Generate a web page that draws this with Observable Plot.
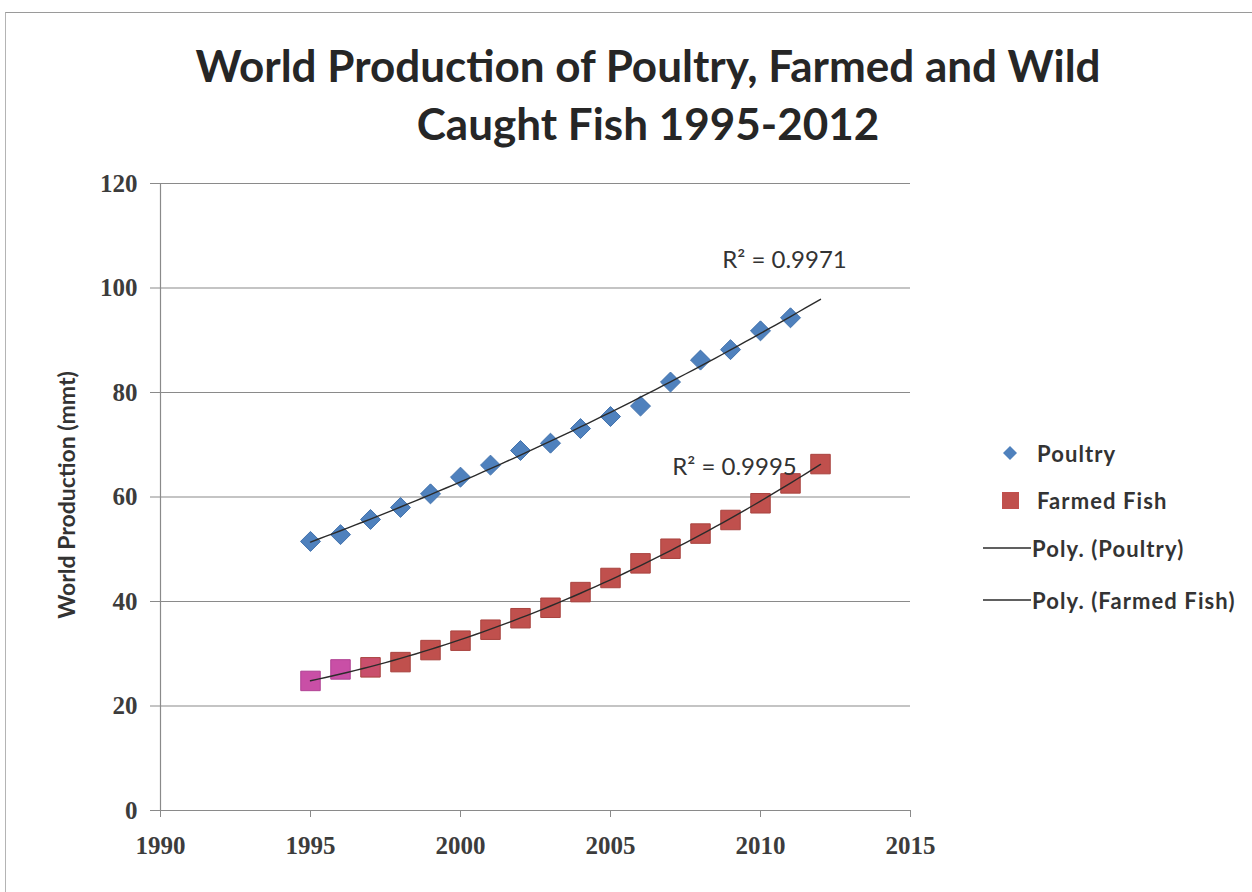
<!DOCTYPE html>
<html><head><meta charset="utf-8">
<script src="https://cdn.jsdelivr.net/npm/d3@7"></script>
<script src="https://cdn.jsdelivr.net/npm/@observablehq/plot@0.6"></script>
<style>
body{margin:0;background:#fff;}
#wrap{position:relative;width:1252px;height:892px;overflow:hidden;background:#fff;}
#frame{position:absolute;left:5px;top:12px;width:1400px;height:1000px;border-top:1.5px solid #9a9a9a;border-left:1.5px solid #b4b4b4;}
#chart{position:absolute;left:0;top:0;}
#title{position:absolute;left:0;top:36px;width:1296px;text-align:center;font-family:Lato,sans-serif;font-weight:bold;font-size:44px;line-height:58px;color:#262626;}
#ytitle{position:absolute;left:66px;top:495px;transform:translate(-50%,-50%) rotate(-90deg);white-space:nowrap;font-family:Lato,sans-serif;font-weight:bold;font-size:23px;color:#333;}
.leg{position:absolute;font-family:Lato,sans-serif;font-weight:bold;font-size:22px;letter-spacing:1.1px;color:#333;white-space:nowrap;transform:translateY(-50%);}
</style></head>
<body>
<div id="wrap">
  <div id="frame"></div>
  <div id="chart"></div>
  <div id="title">World Production of Poultry, Farmed and Wild<br>Caught Fish 1995-2012</div>
  <div id="ytitle">World Production (mmt)</div>
  <div id="legend"></div>
</div>
<script>
// ---- data ----
const poultryYears  = [1995,1996,1997,1998,1999,2000,2001,2002,2003,2004,2005,2006,2007,2008,2009,2010,2011];
const poultryValues = [51.5,52.8,55.7,58.0,60.6,63.8,66.1,68.9,70.3,73.1,75.4,77.4,82.0,86.2,88.2,91.8,94.3];
const fishYears  = [1995,1996,1997,1998,1999,2000,2001,2002,2003,2004,2005,2006,2007,2008,2009,2010,2011,2012];
const fishValues = [24.8,27.0,27.4,28.4,30.7,32.5,34.6,36.8,38.8,41.8,44.5,47.3,50.1,53.0,55.6,58.8,62.6,66.3];
const xTicks = [1990,1995,2000,2005,2010,2015];
const yTicks = [0,20,40,60,80,100,120];
const seriesNames = ["Poultry","Farmed Fish","Poly. (Poultry)","Poly. (Farmed Fish)"];
const r2Texts = ["R\u00B2 = 0.9971","R\u00B2 = 0.9995"];
const trendStart = 1995, trendEnd = 2012;

// ---- build tables ----
const poultry = poultryYears.map((y,i)=>({year:y, value:poultryValues[i]}));
const fish = fishYears.map((y,i)=>({year:y, value:fishValues[i]}));

function quadFit(xs, ys){
  const S=[0,0,0,0,0], T=[0,0,0];
  xs.forEach((x,i)=>{const t=x-2000; for(let k=0;k<5;k++) S[k]+=t**k; for(let k=0;k<3;k++) T[k]+=ys[i]*t**k;});
  const M=[[S[0],S[1],S[2]],[S[1],S[2],S[3]],[S[2],S[3],S[4]]];
  const det=m=>m[0][0]*(m[1][1]*m[2][2]-m[1][2]*m[2][1])-m[0][1]*(m[1][0]*m[2][2]-m[1][2]*m[2][0])+m[0][2]*(m[1][0]*m[2][1]-m[1][1]*m[2][0]);
  const D=det(M);
  const coef=[0,1,2].map(c=>det(M.map((row,r)=>row.map((v,j)=>j===c?T[r]:v)))/D);
  return x=>{const t=x-2000; return coef[0]+coef[1]*t+coef[2]*t*t;};
}
function trend(xs, ys){
  const f=quadFit(xs, ys);
  return d3.range(trendStart, trendEnd+0.001, 0.25).map(x=>({year:x, value:f(x)}));
}
const poultryTrend = trend(poultryYears, poultryValues);
const fishTrend = trend(fishYears, fishValues);

const fishFill = d => d.year<=1996 ? "#c94fa6" : d.year===1997 ? "#c94f6c" : "#c0504d";
const fishStroke = d => d.year<=1996 ? "#b04293" : "#a9433f";

const chart = Plot.plot({
  width:1252, height:892,
  marginTop:183, marginBottom:82, marginLeft:160, marginRight:342,
  x:{domain:[1990,2015]},
  y:{domain:[0,120]},
  style:{background:"transparent", fontFamily:"'Liberation Serif', serif", fontSize:"25px", fontWeight:"bold", color:"#3c3c3c"},
  marks:[
    Plot.ruleY(yTicks, {stroke:"#8a8a8a", strokeWidth:1.2}),
    Plot.ruleX([1990], {stroke:"#8a8a8a", strokeWidth:1.2}),
    Plot.axisY({ticks:yTicks, tickSize:10, tickPadding:13, label:null, stroke:"#8a8a8a", fill:"#3c3c3c"}),
    Plot.axisX({ticks:xTicks, tickSize:7, tickPadding:19, label:null, tickFormat:d=>String(d), stroke:"#8a8a8a", fill:"#3c3c3c"}),
    Plot.dot(poultry, {x:"year", y:"value", symbol:"diamond2", r:9, fill:"#4f81bd", stroke:"#4272ad", strokeWidth:1}),
    Plot.dot(fish, {x:"year", y:"value", symbol:"square", r:11, fill:fishFill, stroke:fishStroke, strokeWidth:1}),
    Plot.line(poultryTrend, {x:"year", y:"value", stroke:"#2b2b2b", strokeWidth:1.4}),
    Plot.line(fishTrend, {x:"year", y:"value", stroke:"#2b2b2b", strokeWidth:1.4}),
    Plot.text([poultryTrend[poultryTrend.length-1]], {x:"year", y:"value", text:()=>r2Texts[0], dx:-36, dy:-39, fontFamily:"Lato, sans-serif", fontWeight:"normal", fontSize:24, fill:"#333"}),
    Plot.text([fishTrend[fishTrend.length-1]], {x:"year", y:"value", text:()=>r2Texts[1], dx:-86, dy:3, fontFamily:"Lato, sans-serif", fontWeight:"normal", fontSize:24, fill:"#333"})
  ]
});
document.getElementById("chart").appendChild(chart);

// ---- legend ----
const leg = document.getElementById("legend");
const items = [
  {y:453, sym:`<svg width="20" height="20" style="position:absolute;left:1000px;top:443px"><path d="M10,3 L17,10 L10,17 L3,10Z" fill="#4f81bd"/></svg>`, tx:1037},
  {y:500, sym:`<svg width="20" height="20" style="position:absolute;left:1001px;top:491px"><rect x="1" y="1" width="17" height="17" fill="#c0504d"/></svg>`, tx:1037},
  {y:548, sym:`<svg width="50" height="4" style="position:absolute;left:983px;top:546px"><line x1="0" y1="2" x2="48" y2="2" stroke="#2b2b2b" stroke-width="1.4"/></svg>`, tx:1032},
  {y:600, sym:`<svg width="50" height="4" style="position:absolute;left:983px;top:598px"><line x1="0" y1="2" x2="48" y2="2" stroke="#2b2b2b" stroke-width="1.4"/></svg>`, tx:1032}
];
items.forEach((it,i)=>{
  leg.insertAdjacentHTML("beforeend", it.sym + `<div class="leg" style="left:${it.tx}px;top:${it.y}px">${seriesNames[i]}</div>`);
});
</script>
</body></html>
